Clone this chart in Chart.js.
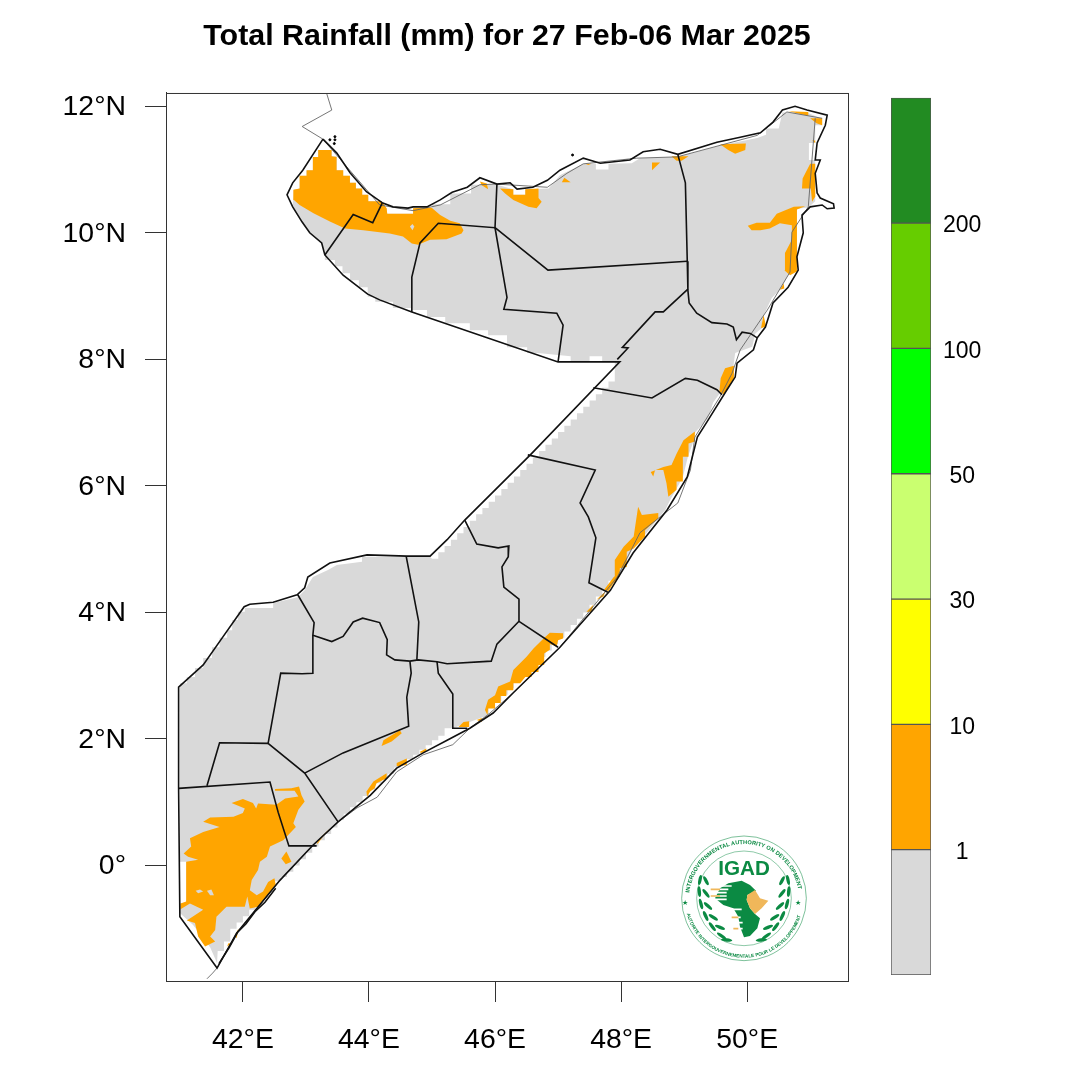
<!DOCTYPE html>
<html><head><meta charset="utf-8">
<script src="https://cdn.jsdelivr.net/npm/chart.js@4"></script>
<style>
html,body{margin:0;padding:0;background:#fff;width:1066px;height:1070px;overflow:hidden}
canvas{position:absolute}
#logo{position:absolute;left:670px;top:830px}
</style></head><body>
<canvas id="map" width="1066" height="1070" style="left:0;top:0"></canvas>
<canvas id="bar" width="200" height="920" style="left:866px;top:80px"></canvas>
<svg id="logo" width="145" height="145" viewBox="0 0 435 435" xmlns="http://www.w3.org/2000/svg" font-family="Liberation Sans" fill="#0b8a43">
<defs>
<path id="arcTop" d="M58 188 A165 165 0 0 1 385 182"/>
<path id="arcBot" d="M50 251 A178 178 0 0 0 394 251"/>
<g id="wreath" fill="#0b8a43">
<ellipse cx="90" cy="150" rx="5" ry="15" transform="rotate(12 90 150)"/>
<ellipse cx="108" cy="152" rx="5" ry="15" transform="rotate(-28 108 152)"/>
<ellipse cx="88" cy="185" rx="5" ry="16" transform="rotate(-5 88 185)"/>
<ellipse cx="108" cy="190" rx="5" ry="16" transform="rotate(-38 108 190)"/>
<ellipse cx="93" cy="222" rx="5" ry="16" transform="rotate(-15 93 222)"/>
<ellipse cx="114" cy="228" rx="5" ry="16" transform="rotate(-48 114 228)"/>
<ellipse cx="107" cy="258" rx="5" ry="16" transform="rotate(-25 107 258)"/>
<ellipse cx="130" cy="262" rx="5" ry="16" transform="rotate(-58 130 262)"/>
<ellipse cx="127" cy="290" rx="5" ry="16" transform="rotate(-38 127 290)"/>
<ellipse cx="150" cy="292" rx="5" ry="16" transform="rotate(-68 150 292)"/>
<ellipse cx="155" cy="318" rx="5" ry="17" transform="rotate(-55 155 318)"/>
<ellipse cx="170" cy="330" rx="5" ry="17" transform="rotate(-85 170 330)"/>
</g>
</defs>
<circle cx="222" cy="205" r="187" fill="none" stroke="#0b8a43" stroke-width="1.6"/>
<circle cx="222" cy="205" r="142" fill="none" stroke="#0b8a43" stroke-width="1.4"/>
<text font-size="17" font-weight="bold"><textPath href="#arcTop" textLength="470" lengthAdjust="spacing">INTERGOVERNMENTAL AUTHORITY ON DEVELOPMENT</textPath></text>
<text font-size="14" font-weight="bold"><textPath href="#arcBot" textLength="460" lengthAdjust="spacing">AUTORITE INTERGOUVERNEMENTALE POUR LE DEVELOPPEMENT</textPath></text>
<text x="222" y="134" text-anchor="middle" font-size="62" font-weight="bold" fill="#0b8a43">IGAD</text>
<text x="45" y="226" text-anchor="middle" font-size="22">★</text>
<text x="385" y="226" text-anchor="middle" font-size="22">★</text>
<use href="#wreath"/>
<use href="#wreath" transform="translate(444 0) scale(-1 1)"/>
<path fill="#0b8a43" d="M175 160 L215 152 L240 165 L258 182 L232 195 L230 210 L240 235 L255 252 L270 265 L262 295 L240 318 L222 322 L210 290 L205 260 L190 235 L160 225 L135 205 L150 175 Z"/>
<path fill="#f0b75a" d="M232 195 L255 180 L270 205 L295 212 L275 235 L255 252 L240 235 L230 210 Z"/>
<g stroke-width="5">
<path stroke="#fff" d="M125 168H185M125 178H175M125 188H170M125 198H170M125 208H170M180 238H215M185 262H212M190 278H218M190 296H218"/>
<path stroke="#f0b75a" d="M122 178H150M122 198H150M185 262H205M190 296H205"/>
</g>
</svg>
<script>
// axis ticks
const lonTicks = [42, 44, 46, 48, 50];
const latTicks = [0, 2, 4, 6, 8, 10, 12];
const binLabels = ['1', '10', '30', '50', '100', '200'];
const binColors = ['#d9d9d9', '#ffa500', '#ffff00', '#caff70', '#00ff00', '#66cd00', '#228b22'];

// Somalia coast / border (lon, lat)
const outline = [[43.27,11.48],[43.49,11.26],[43.70,10.95],[43.96,10.65],[44.22,10.47],[44.38,10.41],[44.62,10.39],[44.70,10.41],[44.92,10.41],[45.13,10.52],[45.32,10.64],[45.56,10.72],[45.76,10.87],[46.03,10.77],[46.24,10.79],[46.35,10.69],[46.60,10.72],[46.83,10.83],[47.03,10.99],[47.40,11.18],[47.67,11.10],[48.14,11.15],[48.35,11.28],[48.62,11.32],[48.90,11.24],[49.52,11.43],[49.89,11.51],[50.21,11.58],[50.41,11.75],[50.56,11.94],[50.76,12.00],[50.95,11.94],[51.27,11.86],[51.24,11.70],[51.11,11.42],[51.08,11.15],[51.16,11.15],[51.08,10.94],[51.11,10.63],[51.16,10.55],[51.37,10.46],[51.38,10.39],[51.27,10.38],[51.19,10.44],[51.00,10.41],[50.87,10.28],[50.89,10.00],[50.79,9.62],[50.81,9.41],[50.65,9.14],[50.41,8.89],[50.29,8.51],[50.16,8.34],[50.10,8.15],[49.84,7.94],[49.81,7.72],[49.68,7.52],[49.38,7.04],[49.21,6.77],[49.05,6.14],[48.73,5.62],[48.19,4.94],[47.83,4.35],[47.03,3.45],[46.29,2.73],[45.97,2.41],[45.60,2.17],[45.24,1.98],[44.86,1.78],[44.44,1.54],[44.02,1.11],[43.51,0.69],[43.11,0.32],[42.59,-0.23],[41.90,-1.07],[41.59,-1.62],[41.00,-0.81],[40.98,1.22],[40.98,2.82],[41.37,3.17],[41.68,3.61],[42.02,4.09],[42.11,4.13],[42.48,4.16],[42.86,4.28],[42.98,4.39],[43.03,4.56],[43.38,4.78],[43.97,4.91],[44.60,4.89],[44.97,4.89],[45.24,5.15],[45.52,5.46],[46.56,6.49],[47.98,7.96],[47.00,7.96],[44.68,8.75],[44.17,8.94],[43.98,9.03],[43.59,9.33],[43.30,9.65],[43.25,9.84],[43.06,10.00],[42.94,10.17],[42.79,10.41],[42.70,10.60],[42.79,10.79],[42.95,10.99],[43.27,11.48]];
const thinNorth = [[43.33,12.2],[43.41,11.94],[42.94,11.68],[43.27,11.48],[44.17,10.44],[44.70,10.35],[45.13,10.44],[45.76,10.76],[46.03,10.77],[46.83,10.72],[47.14,10.94],[47.40,11.09],[48.25,11.18],[48.89,11.20],[50.16,11.54],[50.63,11.91],[51.19,11.81]];
const thinEast = [[51.08,11.81],[50.97,10.41],[50.71,10.01],[50.68,9.38],[50.32,8.78],[49.89,8.15],[49.76,7.78],[49.57,7.41],[49.17,6.77],[49.10,6.25],[48.90,5.73],[48.62,5.51],[48.30,5.26],[47.94,4.56],[47.03,3.45],[46.29,2.73],[45.92,2.41],[45.60,2.17],[45.33,1.91],[44.86,1.75],[44.44,1.48],[44.13,1.08],[43.81,0.91],[43.51,0.69],[43.11,0.32],[42.59,-0.23],[41.90,-1.07],[41.59,-1.62],[41.52,-1.70],[41.43,-1.79]];
const bajuni = [[41.62,-1.55],[41.78,-1.30],[41.92,-1.05],[42.05,-0.92],[42.20,-0.72],[42.35,-0.58],[42.52,-0.36]];
const islands = [[43.46,11.52],[43.46,11.47],[43.45,11.41],[43.38,11.47],[47.23,11.23]];

// administrative boundaries
const adminA = [[43.30,9.65],[43.75,10.29],[44.06,10.16],[44.21,10.47]];
const adminB = [[44.68,8.75],[44.68,9.30],[44.81,9.84],[45.10,10.15],[46.00,10.08],[46.03,10.77]];
const adminC = [[46.00,10.08],[46.19,8.98],[46.14,8.79],[46.98,8.73],[47.08,8.54],[47.00,7.96]];
const adminD = [[46.00,10.08],[46.84,9.41],[49.05,9.55]];
const adminE = [[48.90,11.24],[49.02,10.79],[49.05,9.55],[49.06,9.09],[49.08,8.89],[49.20,8.73],[49.44,8.58],[49.68,8.56],[49.78,8.51],[49.83,8.31],[49.92,8.43],[50.05,8.41],[50.16,8.34]];
const adminF = [[49.06,9.11],[48.67,8.75],[48.54,8.75],[48.02,8.19],[48.11,8.18],[47.94,8.00]];
const adminG = [[47.56,7.55],[48.49,7.39],[49.02,7.70],[49.21,7.67],[49.52,7.52],[49.60,7.44]];
const adminH = [[46.52,6.49],[47.59,6.25],[47.35,5.73],[47.48,5.51],[47.60,5.18],[47.49,4.47],[47.79,4.32]];
const adminI = [[45.52,5.46],[45.71,5.08],[46.05,5.02],[46.22,5.05],[46.21,4.88],[46.11,4.72],[46.14,4.40],[46.38,4.21],[46.38,3.86],[47.00,3.45]];
const adminJ = [[46.38,3.86],[46.03,3.50],[45.94,3.23],[45.24,3.19],[45.08,3.22],[44.78,3.25],[44.65,3.23]];
const adminK = [[44.59,4.89],[44.79,3.85],[44.76,3.25]];
const adminL = [[42.87,4.28],[43.13,3.84],[43.11,3.64],[43.41,3.54],[43.59,3.62],[43.75,3.85],[43.90,3.91],[44.17,3.84],[44.29,3.57],[44.28,3.33],[44.41,3.25],[44.65,3.23]];
const adminM = [[43.11,3.64],[43.11,3.04],[42.94,3.03],[42.60,3.04],[42.40,1.93],[42.98,1.46],[43.51,0.69]];
const adminN = [[42.40,1.93],[41.63,1.94],[41.43,1.26]];
const adminO = [[40.98,1.22],[42.43,1.32],[42.56,0.84],[42.73,0.31],[43.17,0.31]];
const adminP = [[42.98,1.46],[43.59,1.78],[44.63,2.20],[44.60,2.66],[44.67,3.04],[44.65,3.23]];
const adminQ = [[45.08,3.22],[45.10,3.04],[45.33,2.71],[45.33,2.17],[45.56,2.17]];

// cells with under 1 mm (gray)
const dryArea = [[43.19,11.31],[43.41,11.31],[43.41,11.21],[43.49,11.21],[43.49,10.99],[43.59,10.99],[43.59,10.90],[43.70,10.90],[43.70,10.79],[43.79,10.79],[43.79,10.70],[43.89,10.70],[43.89,10.60],[43.99,10.60],[43.99,10.50],[44.20,10.50],[44.28,10.39],[44.29,10.30],[44.70,10.30],[44.70,10.39],[45.00,10.39],[45.00,10.45],[45.29,10.45],[45.29,10.62],[45.62,10.62],[45.62,10.76],[46.03,10.76],[46.29,10.69],[46.29,10.60],[46.48,10.60],[46.48,10.69],[46.85,10.70],[47.03,10.91],[47.40,11.09],[47.60,11.09],[47.60,11.00],[47.80,11.00],[47.80,11.09],[48.17,11.10],[48.30,11.18],[48.90,11.20],[49.57,11.38],[50.16,11.50],[50.30,11.55],[50.30,11.65],[50.50,11.65],[50.56,11.90],[50.95,11.90],[51.19,11.80],[51.19,11.70],[51.08,11.70],[51.08,11.42],[50.98,11.42],[50.98,11.15],[51.08,11.15],[51.08,10.50],[50.97,10.40],[50.79,10.38],[50.79,9.41],[50.68,9.38],[50.52,9.10],[50.39,8.97],[50.25,8.67],[50.23,8.49],[50.13,8.41],[50.08,8.20],[49.81,8.10],[49.78,7.88],[49.57,7.47],[49.46,7.32],[49.38,7.07],[49.17,6.84],[49.14,6.68],[49.06,6.46],[48.98,6.14],[48.87,5.94],[48.78,5.78],[48.70,5.62],[48.40,5.25],[48.19,5.02],[47.98,4.59],
[47.9,4.5],[47.8,4.5],[47.8,4.37],[47.7,4.37],[47.7,4.25],[47.6,4.25],[47.6,4.12],[47.5,4.12],[47.5,4.0],[47.4,4.0],[47.4,3.9],[47.3,3.9],[47.3,3.8],[47.2,3.8],[47.2,3.7],[47.1,3.7],[47.1,3.6],[47.0,3.6],[47.0,3.5],[46.9,3.5],[46.9,3.4],[46.8,3.4],[46.8,3.3],[46.7,3.3],[46.7,3.2],[46.6,3.2],[46.6,3.1],[46.5,3.1],[46.5,3.0],[46.4,3.0],[46.4,2.9],[46.3,2.9],[46.3,2.8],[46.2,2.8],[46.2,2.7],[46.1,2.7],[46.1,2.6],[46.0,2.6],[46.0,2.5],[45.9,2.5],[45.9,2.38],
[45.33,2.17],[45.2,2.17],[45.2,2.05],[45.1,2.05],[45.1,1.98],[45.0,1.98],[45.0,1.9],[44.9,1.9],[44.9,1.83],[44.8,1.83],[44.8,1.75],[44.7,1.75],[44.7,1.68],[44.6,1.68],[44.6,1.62],[44.5,1.62],[44.5,1.55],[44.4,1.55],[44.4,1.45],[44.3,1.45],[44.3,1.38],[44.2,1.38],[44.2,1.3],[44.1,1.3],[44.1,1.2],[44.0,1.2],[44.0,1.1],[43.9,1.1],[43.9,1.0],[43.8,1.0],[43.8,0.92],[43.7,0.92],[43.7,0.82],[43.6,0.82],[43.6,0.72],[43.5,0.72],[43.5,0.6],[43.4,0.6],[43.4,0.5],[43.3,0.5],[43.3,0.4],[43.2,0.4],[43.2,0.3],[43.1,0.3],[43.1,0.2],[43.0,0.2],[43.0,0.1],[42.9,0.1],[42.9,0.0],[42.8,0.0],[42.8,-0.1],[42.7,-0.1],[42.7,-0.18],[42.6,-0.18],[42.6,-0.25],[42.5,-0.25],[42.5,-0.35],[42.4,-0.35],[42.4,-0.45],[42.3,-0.45],[42.3,-0.6],[42.2,-0.6],[42.2,-0.7],[42.1,-0.7],[42.1,-0.8],[42.0,-0.8],[42.0,-0.9],[41.9,-0.9],[41.9,-1.0],[41.8,-1.0],[41.8,-1.2],[41.7,-1.2],[41.7,-1.35],[41.6,-1.35],[41.59,-1.54],[41.48,-1.29],[41.21,-0.94],[41.00,-0.75],[41.00,-0.60],[41.10,-0.60],[41.10,0.06],[41.00,0.06],[41.00,2.88],[41.11,2.88],[41.11,2.98],[41.24,2.98],[41.24,3.12],[41.37,3.12],[41.37,3.28],[41.51,3.28],[41.51,3.45],[41.63,3.45],[41.63,3.60],[41.75,3.60],[41.75,3.72],[41.83,3.72],[41.83,3.88],[41.92,3.88],[41.92,4.01],[42.03,4.01],[42.03,4.07],[42.48,4.07],[42.48,4.15],[42.87,4.24],[42.98,4.35],[43.11,4.56],[43.35,4.67],[43.49,4.75],[43.89,4.80],[43.89,4.88],[44.97,4.88],
[45.0,4.85],[45.1,4.85],[45.1,4.95],[45.2,4.95],[45.2,5.05],[45.3,5.05],[45.3,5.15],[45.4,5.15],[45.4,5.25],[45.5,5.25],[45.5,5.35],[45.6,5.35],[45.6,5.45],[45.7,5.45],[45.7,5.55],[45.8,5.55],[45.8,5.65],[45.9,5.65],[45.9,5.75],[46.0,5.75],[46.0,5.85],[46.1,5.85],[46.1,5.95],[46.2,5.95],[46.2,6.05],[46.3,6.05],[46.3,6.15],[46.4,6.15],[46.4,6.25],[46.5,6.25],[46.5,6.35],[46.6,6.35],[46.6,6.45],[46.7,6.45],[46.7,6.55],[46.8,6.55],[46.8,6.65],[46.9,6.65],[46.9,6.75],[47.0,6.75],[47.0,6.85],[47.1,6.85],[47.1,6.95],[47.2,6.95],[47.2,7.05],[47.3,7.05],[47.3,7.15],[47.4,7.15],[47.4,7.25],[47.5,7.25],[47.5,7.35],[47.6,7.35],[47.6,7.45],[47.7,7.45],[47.7,7.55],[47.8,7.55],[47.8,7.65],[47.9,7.65],[47.9,7.97],
[47.7,7.97],[47.7,8.05],[47.5,8.05],[47.5,7.97],[47.2,7.97],[47.2,8.05],[46.68,8.10],[46.51,8.10],[46.51,8.19],[46.19,8.19],[46.19,8.38],[45.89,8.38],[45.89,8.46],[45.60,8.46],[45.60,8.57],[45.21,8.57],[45.21,8.67],[44.92,8.67],[44.92,8.78],[44.68,8.78],[44.68,8.81],[44.38,8.81],[44.38,8.91],[44.10,8.91],[44.10,8.99],[43.98,8.99],[43.98,9.14],[43.84,9.14],[43.84,9.25],[43.70,9.25],[43.70,9.36],[43.58,9.36],[43.58,9.47],[43.46,9.47],[43.46,9.57],[43.30,9.57],[43.30,9.68],[43.25,9.84],[43.06,10.00],[42.94,10.17],[42.79,10.41],[42.81,10.68],[42.90,10.70],[42.90,10.90],[43.01,10.90],[43.01,10.99],[43.11,10.99],[43.11,11.20],[43.19,11.20]];
const dryHole1 = [[44.65,10.10],[44.69,10.14],[44.72,10.10],[44.69,10.04]];
const dryHole2 = [[41.25,-0.40],[41.32,-0.38],[41.37,-0.41],[41.29,-0.44]];
const dryHole3 = [[41.43,-0.40],[41.50,-0.38],[41.54,-0.47],[41.48,-0.47]];

// cells with 1 to 10 mm (orange)
const wetNorthWest = [[43.195,11.31],[43.407,11.31],[43.407,11.21],[43.486,11.20],[43.486,10.99],[43.592,10.99],[43.592,10.90],[43.698,10.90],[43.698,10.79],[43.793,10.79],[43.793,10.70],[43.894,10.70],[43.894,10.60],[43.989,10.60],[43.989,10.50],[44.20,10.50],[44.28,10.39],[44.29,10.30],[44.70,10.30],[44.70,10.39],[44.99,10.40],[45.13,10.28],[45.29,10.19],[45.44,10.15],[45.50,10.04],[45.47,9.99],[45.23,9.90],[44.97,9.89],[44.78,9.81],[44.68,9.83],[44.54,9.94],[44.33,9.99],[43.91,10.04],[43.62,10.07],[43.38,10.18],[43.12,10.31],[42.90,10.44],[42.81,10.52],[42.80,10.68],[42.90,10.70],[42.90,10.90],[43.01,10.90],[43.01,10.99],[43.11,10.99],[43.11,11.20],[43.195,11.20]];
const wetN2 = [[45.76,10.81],[45.87,10.78],[45.89,10.69],[45.79,10.75]];
const wetN3 = [[46.08,10.70],[46.29,10.69],[46.29,10.60],[46.48,10.60],[46.48,10.69],[46.69,10.70],[46.69,10.55],[46.74,10.49],[46.66,10.39],[46.53,10.41],[46.29,10.52],[46.16,10.62]];
const wetN4 = [[47.06,10.80],[47.10,10.87],[47.20,10.80]];
const wetN5 = [[47.43,11.09],[47.53,11.09],[47.48,11.07]];
const wetN6 = [[48.49,11.11],[48.62,11.11],[48.49,10.99]];
const wetN7 = [[48.80,11.21],[49.07,11.21],[48.96,11.14],[48.88,11.14]];
const wetN8 = [[49.57,11.40],[49.98,11.41],[49.97,11.31],[49.81,11.25],[49.70,11.31]];
const wetTip1 = [[50.66,11.92],[50.97,11.91],[50.97,11.85]];
const wetTip2 = [[51.00,11.81],[51.19,11.81],[51.19,11.70],[51.10,11.73]];
const wetTip3 = [[51.03,11.46],[51.08,11.46],[51.08,11.42]];
const wetE1 = [[51.00,11.09],[51.08,11.09],[51.08,10.57],[51.03,10.49],[51.01,10.70],[50.87,10.70],[50.88,10.86]];
const wetE2 = [[50.01,10.11],[50.15,10.16],[50.36,10.16],[50.47,10.30],[50.74,10.41],[50.92,10.42],[50.79,10.37],[50.79,9.39],[50.68,9.33],[50.59,9.41],[50.60,9.68],[50.71,9.89],[50.71,10.12],[50.52,10.15],[50.36,10.07],[50.21,10.04],[50.07,10.04]];
const wetE3 = [[50.52,9.10],[50.58,9.20],[50.59,9.12]];
const wetE4 = [[50.26,8.70],[50.30,8.52],[50.22,8.49]];
const wetE5 = [[49.65,7.86],[49.79,7.90],[49.79,7.70],[49.68,7.52],[49.62,7.45],[49.56,7.49],[49.58,7.70]];
const wetC1 = [[49.17,6.86],[49.17,6.70],[49.07,6.67],[49.07,6.46],[48.98,6.46],[48.98,6.07],[48.88,6.07],[48.88,5.94],[48.75,5.83],[48.72,6.04],[48.67,6.25],[48.54,6.25],[48.51,6.15],[48.47,6.22],[48.67,6.30],[48.80,6.33],[48.88,6.51],[48.99,6.72]];
const wetC2 = [[48.27,5.67],[48.33,5.54],[48.59,5.57],[48.59,5.49],[48.38,5.30],[48.38,5.20],[48.20,5.01],[48.09,4.96],[48.09,4.72],[47.98,4.70],[47.98,4.57],[47.88,4.46],[47.80,4.34],[47.73,4.36],[47.89,4.57],[47.90,4.83],[48.04,5.04],[48.20,5.20]];
const wetC3 = [[47.61,4.20],[47.75,4.33],[47.72,4.25]];
const wetC4 = [[47.45,4.01],[47.56,4.12],[47.53,4.01]];
const wetC5 = [[46.77,3.59],[46.87,3.68],[47.08,3.67],[47.08,3.59],[47.00,3.56],[46.98,3.46],[46.87,3.50],[46.87,3.41],[46.78,3.35],[46.78,3.17],[46.69,3.17],[46.69,3.06],[46.58,3.06],[46.58,2.98],[46.48,2.98],[46.40,2.88],[46.29,2.88],[46.29,2.77],[46.18,2.77],[46.18,2.68],[46.09,2.68],[46.09,2.57],[46.00,2.57],[46.00,2.48],[45.89,2.48],[45.88,2.38],[45.84,2.46],[45.89,2.62],[46.00,2.69],[46.05,2.83],[46.24,2.91],[46.29,3.09],[46.50,3.30],[46.61,3.43]];
const wetS1 = [[45.42,2.19],[45.50,2.27],[45.59,2.28],[45.59,2.19]];
const wetS2 = [[45.71,2.30],[45.79,2.33],[45.79,2.27]];
const wetS3 = [[44.23,1.98],[44.49,2.14],[44.52,2.09],[44.36,1.96],[44.20,1.89]];
const wetS4 = [[43.96,1.17],[44.07,1.33],[44.28,1.46],[44.28,1.38],[44.12,1.30],[44.09,1.22],[44.02,1.17],[43.97,1.09]];
const wetS5 = [[44.44,1.62],[44.60,1.69],[44.60,1.59],[44.44,1.57]];
const wetS6 = [[44.81,1.80],[44.91,1.85],[44.91,1.80],[44.82,1.78]];
const wetS7 = [[43.17,0.35],[43.25,0.46],[43.38,0.59],[43.30,0.50],[43.19,0.35]];
const wetJubaMain = [[41.82,0.99],[42.00,1.05],[42.16,0.99],[42.21,0.90],[42.24,0.98],[42.53,0.96],[42.67,1.06],[42.88,1.09],[42.82,1.18],[42.51,1.18],[42.51,1.21],[42.77,1.22],[42.89,1.25],[42.93,1.11],[42.98,1.01],[42.88,0.88],[42.80,0.67],[42.84,0.61],[42.64,0.40],[42.43,0.30],[42.38,0.14],[42.27,0.06],[42.24,-0.07],[42.14,-0.23],[42.11,-0.39],[42.22,-0.47],[42.32,-0.41],[42.40,-0.26],[42.50,-0.20],[42.52,-0.30],[42.38,-0.49],[42.24,-0.65],[42.11,-0.68],[42.07,-0.49],[42.03,-0.65],[41.74,-0.65],[41.58,-0.81],[41.56,-1.02],[41.48,-1.12],[41.56,-1.20],[41.40,-1.28],[41.29,-1.12],[41.24,-0.91],[41.11,-0.87],[41.37,-0.70],[41.16,-0.60],[41.01,-0.69],[41.01,-0.60],[41.10,-0.57],[41.10,0.06],[41.29,0.09],[41.13,0.14],[41.06,0.19],[41.18,0.30],[41.16,0.43],[41.37,0.53],[41.63,0.61],[41.37,0.69],[41.48,0.76],[41.85,0.77],[42.00,0.83],[42.03,0.90]];
const wetJ2 = [[42.61,0.11],[42.69,0.22],[42.77,0.06],[42.68,0.02]];
const wetJ3 = [[41.77,-1.23],[41.82,-1.23],[41.75,-1.28]];
const wetJ4 = [[41.87,-1.10],[41.93,-1.00],[41.90,-1.15]];

const pts = a => a.map(p => ({x: p[0], y: p[1]}));
const lineSet = (a, color, w) => ({data: pts(a), showLine: true, borderColor: color, borderWidth: w, pointRadius: 0, tension: 0, fill: false});
const fillSet = (a, color) => ({data: pts(a), showLine: true, borderColor: 'transparent', borderWidth: 0, backgroundColor: color, pointRadius: 0, tension: 0, fill: 'shape'});

const admins = [adminA, adminB, adminC, adminD, adminE, adminF, adminG, adminH, adminI, adminJ, adminK, adminL, adminM, adminN, adminO, adminP, adminQ];
const wets = [wetNorthWest, wetN2, wetN3, wetN4, wetN5, wetN6, wetN7, wetN8, wetTip1, wetTip2, wetTip3, wetE1, wetE2, wetE3, wetE4, wetE5, wetC1, wetC2, wetC3, wetC4, wetC5, wetS1, wetS2, wetS3, wetS4, wetS5, wetS6, wetS7, wetJubaMain, wetJ2, wetJ3, wetJ4];

// lower array index is painted on top
const datasets = [
  {data: pts(islands), showLine: false, pointRadius: 1, backgroundColor: '#000', borderColor: '#000'},
  lineSet(outline, '#111', 1.6),
  lineSet(bajuni, '#111', 1.6),
  ...admins.map(a => lineSet(a, '#111', 1.6)),
  lineSet(thinNorth, '#666', 0.9),
  lineSet(thinEast, '#666', 0.9),
  fillSet(dryHole1, binColors[0]), fillSet(dryHole2, binColors[0]), fillSet(dryHole3, binColors[0]),
  ...wets.map(a => fillSet(a, binColors[1])),
  fillSet(dryArea, binColors[0])
];

const axisFont = {family: '"Liberation Sans", Arial, sans-serif', size: 28.4};
const frame = {id: 'frame', afterDatasetsDraw(c) {
  const a = c.chartArea, x = c.ctx;
  x.save(); x.strokeStyle = '#333'; x.lineWidth = 1;
  x.strokeRect(a.left + .5, a.top + .5, a.right - a.left, a.bottom - a.top);
  x.restore();
}};

new Chart(document.getElementById('map'), {
  type: 'scatter',
  data: {datasets},
  plugins: [frame],
  options: {
    responsive: false, animation: false, events: [],
    layout: {padding: {left: 0, right: 218, top: 0, bottom: 0}},
    plugins: {
      legend: {display: false}, tooltip: {enabled: false},
      title: {display: true, text: 'Total Rainfall (mm) for 27 Feb-06 Mar 2025', fullSize: false, color: '#000',
        font: {family: '"Liberation Sans", Arial, sans-serif', size: 30.4, weight: 'bold', lineHeight: 1.2},
        padding: {top: 18, bottom: 38.5}}
    },
    scales: {
      x: {type: 'linear', min: 40.78, max: 51.6,
        afterBuildTicks: s => { s.ticks = lonTicks.map(v => ({value: v})); },
        afterFit: s => { s.height = 89; },
        border: {color: '#333', width: 1},
        grid: {drawOnChartArea: false, drawTicks: true, tickLength: 21, tickColor: '#333', tickWidth: 1},
        ticks: {color: '#000', font: axisFont, padding: 21, maxRotation: 0, autoSkip: false, callback: v => v + '°E'}},
      y: {type: 'linear', min: -1.825, max: 12.21,
        afterBuildTicks: s => { s.ticks = latTicks.map(v => ({value: v})); },
        afterFit: s => { s.width = 166; },
        border: {color: '#333', width: 1},
        grid: {drawOnChartArea: false, drawTicks: true, tickLength: 21, tickColor: '#333', tickWidth: 1},
        ticks: {color: '#000', font: axisFont, padding: 19, labelOffset: 1, autoSkip: false, callback: v => v === 0 ? '0°' : v + '°N'}}
    }
  }
});

new Chart(document.getElementById('bar'), {
  type: 'bar',
  data: {labels: ['rain'], datasets: binColors.map(c => ({data: [1], backgroundColor: c, borderColor: '#555', borderWidth: 1, borderSkipped: false, barPercentage: 1, categoryPercentage: 1}))},
  options: {
    responsive: false, animation: false, events: [],
    layout: {padding: {left: 25, right: 0, top: 13, bottom: 25}},
    plugins: {legend: {display: false}, tooltip: {enabled: false}},
    scales: {
      x: {stacked: true, display: false},
      y: {stacked: true, position: 'right', min: 0, max: 7,
        afterFit: s => { s.width = 135; },
        border: {display: false}, grid: {display: false},
        ticks: {stepSize: 1, color: '#000', autoSkip: false, crossAlign: 'center', padding: 4, labelOffset: 3,
          font: {family: '"Liberation Sans", Arial, sans-serif', size: 23},
          callback: v => binLabels[v - 1] || ''}}
    }
  }
});
</script>
</body></html>
